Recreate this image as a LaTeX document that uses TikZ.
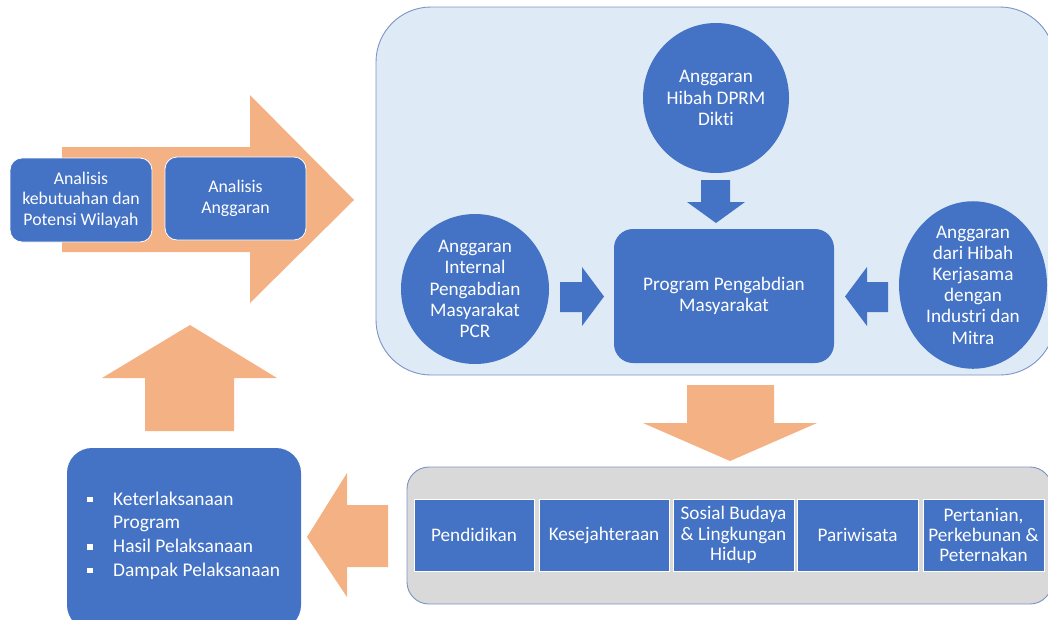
\documentclass[tikz,border=0pt]{standalone}
\usepackage{fontspec}
\setmainfont{Carlito}[Ligatures={NoCommon}]
\usetikzlibrary{shapes.geometric}
\definecolor{myblue}{HTML}{4472C4}
\definecolor{myorange}{HTML}{F4B183}
\definecolor{panelblue}{HTML}{DEEBF7}
\definecolor{panelgrey}{HTML}{D9D9D9}
\definecolor{panelline}{HTML}{7C93C6}
\begin{document}
\begin{tikzpicture}[x=1pt,y=-1pt,
  txt/.style={text=white,align=center,font=\fontsize{19.2}{21.2}\selectfont},
  bluebox/.style={txt,fill=myblue,draw=white,line width=0.8pt,rounded corners=12pt,inner sep=0pt},
  bluecirc/.style={txt,fill=myblue,ellipse,inner sep=0pt},
  sqbox/.style={txt,fill=myblue,draw=white,line width=0.8pt,inner sep=0pt,font=\fontsize{19.2}{20.2}\selectfont},
  blockarrow/.style={fill=myorange},
  smallarrow/.style={fill=myblue},
  panel/.style={draw=panelline,line width=0.9pt}]
\useasboundingbox (0,0) rectangle (1048,619);
\clip (0,0) rectangle (1048,619);

% big right arrow
\fill[blockarrow] (62,147) -- (250,147) -- (250,95) -- (354,200) -- (250,303) -- (250,252) -- (62,252) -- cycle;
\node[bluebox,minimum width=142pt,minimum height=84pt,font=\fontsize{17.8}{20.6}\selectfont] (kebutuhan) at (81,200) {Analisis\\kebutuahan dan\\Potensi Wilayah};
\node[bluebox,minimum width=141pt,minimum height=83pt,font=\fontsize{17.8}{20.6}\selectfont] (analisis) at (235.5,198.5) {Analisis\\Anggaran};

% top panel
\draw[panel,fill=panelblue,rounded corners=55pt] (376,7) rectangle (1055,375);
\node[bluecirc,minimum width=146pt,minimum height=150pt] (dprm) at (716,98) {Anggaran\\Hibah DPRM\\Dikti};
\node[bluecirc,minimum width=148pt,minimum height=150pt] (internal) at (475,289) {Anggaran\\Internal\\Pengabdian\\Masyarakat\\PCR};
\node[bluecirc,minimum width=148pt,minimum height=150pt] (mitra) at (973,285) {Anggaran\\dari Hibah\\Kerjasama\\dengan\\Industri dan\\Mitra};
\node[bluebox,draw=none,rounded corners=19pt,minimum width=220pt,minimum height=134pt] (program) at (724,296) {Program Pengabdian\\Masyarakat};

% small blue arrows
\fill[smallarrow] (701,180) -- (730,180) -- (730,202) -- (745,202) -- (716,223) -- (687,202) -- (701,202) -- cycle;
\fill[smallarrow] (560,282) -- (582,282) -- (582,267) -- (604,296.5) -- (582,326) -- (582,312) -- (560,312) -- cycle;
\fill[smallarrow] (888,282) -- (867,282) -- (867,267) -- (845,296.5) -- (867,326) -- (867,312) -- (888,312) -- cycle;

% big down arrow
\fill[blockarrow] (687,385) -- (774,385) -- (774,423) -- (817,423) -- (730,461) -- (643,423) -- (687,423) -- cycle;

% bottom panel
\draw[panel,fill=panelgrey,rounded corners=22pt] (407,467) rectangle (1052,604);
\node[sqbox,minimum width=120pt,minimum height=72pt] (pendidikan) at (474,535) {Pendidikan};
\node[sqbox,minimum width=130pt,minimum height=72pt] (kesejahteraan) at (604,535) {Kesejahteraan};
\node[sqbox,minimum width=121pt,minimum height=72pt] (sosial) at (733.5,535) {Sosial Budaya\\\& Lingkungan\\Hidup};
\node[sqbox,minimum width=121pt,minimum height=72pt] (pariwisata) at (857.5,535) {Pariwisata};
\node[sqbox,minimum width=121pt,minimum height=72pt] (pertanian) at (983.5,535) {Pertanian,\\Perkebunan \&\\Peternakan};

% big left arrow
\fill[blockarrow] (388,505) -- (347,505) -- (347,473) -- (307,537) -- (347,597) -- (347,567) -- (388,567) -- cycle;

% result box
\node[bluebox,draw=none,rounded corners=25pt,minimum width=234pt,minimum height=182pt] (hasil) at (184,539) {};
\node[text=white,align=left,anchor=west,inner sep=0pt,font=\fontsize{19.4}{23.7}\selectfont] (hasillist) at (87,535.5)
 {\makebox[26pt][l]{\raisebox{3pt}{\rule{5.5pt}{5.5pt}}}Keterlaksanaan\\
  \hspace*{26pt}Program\\
  \makebox[26pt][l]{\raisebox{3pt}{\rule{5.5pt}{5.5pt}}}Hasil Pelaksanaan\\
  \makebox[26pt][l]{\raisebox{3pt}{\rule{5.5pt}{5.5pt}}}Dampak Pelaksanaan};

% up arrow
\fill[blockarrow] (145,431) -- (145,378) -- (102,378) -- (190,325) -- (277,378) -- (234,378) -- (234,431) -- cycle;
\end{tikzpicture}
\end{document}
